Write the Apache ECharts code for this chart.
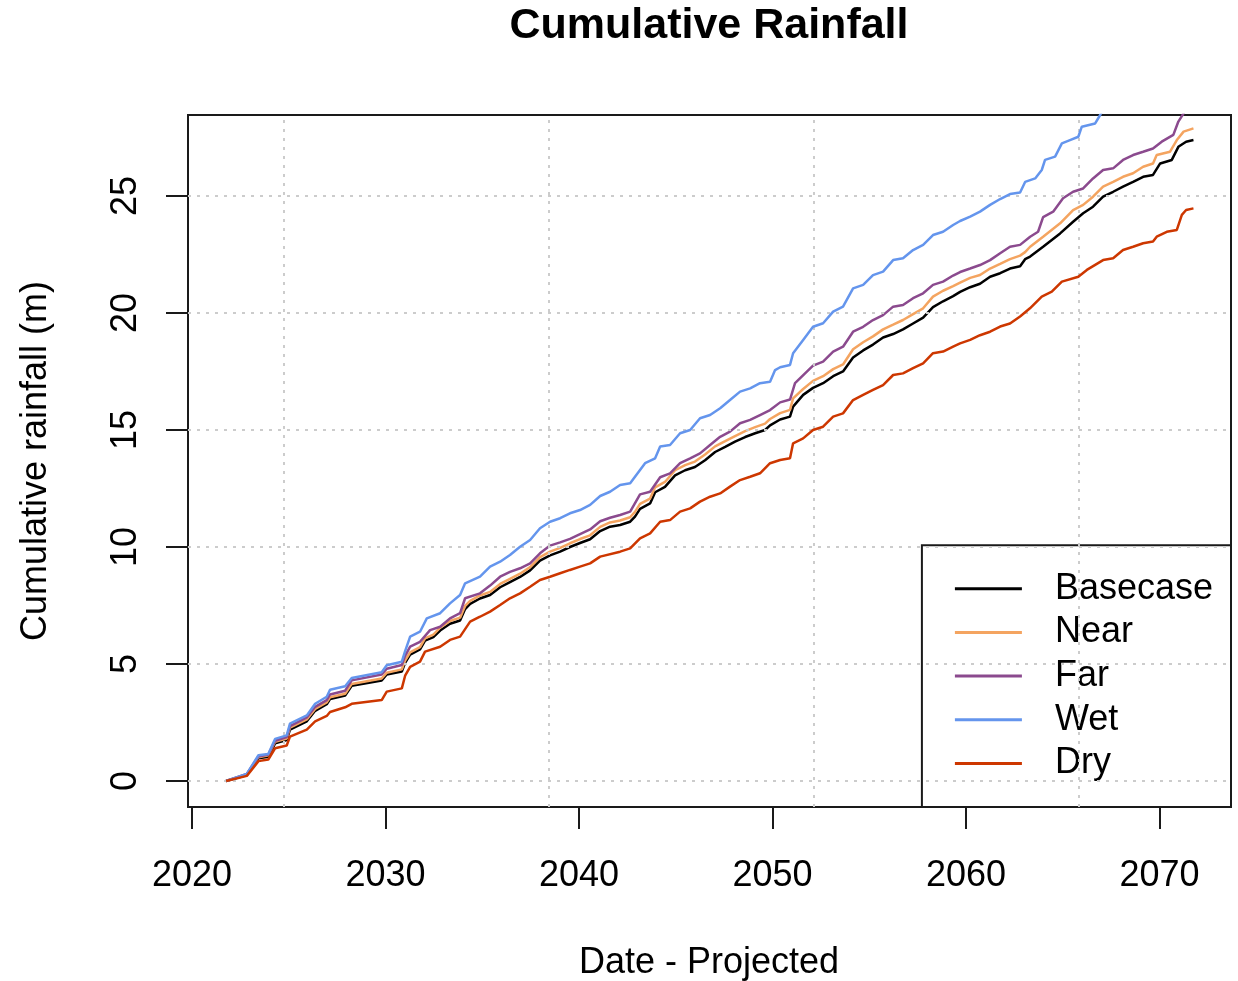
<!DOCTYPE html>
<html>
<head>
<meta charset="utf-8">
<title>Cumulative Rainfall</title>
<script src="https://cdn.jsdelivr.net/npm/echarts@6/dist/echarts.min.js"></script>
<style>
  html, body { margin: 0; padding: 0; background: #ffffff; }
  #chart { width: 1238px; height: 981px; }
</style>
</head>
<body>
<div id="chart"></div>
<script>
// Cumulative rainfall (m) by projected date, as [decimal year, value]
const basecase = [
  [2021.76, 0], [2022.83, 0.26], [2023.43, 0.97], [2023.94, 1.04], [2024.29, 1.61], [2024.89, 1.75],
  [2025.06, 2.2], [2025.93, 2.55], [2026.36, 3.0], [2026.96, 3.28], [2027.13, 3.5], [2027.91, 3.65],
  [2028.25, 4.07], [2029.80, 4.3], [2030.06, 4.55], [2030.84, 4.68], [2031.01, 5.05], [2031.27, 5.4],
  [2031.78, 5.62], [2032.04, 6.0], [2032.47, 6.15], [2032.82, 6.43], [2033.33, 6.72], [2033.85, 6.86],
  [2034.11, 7.35], [2034.37, 7.57], [2034.88, 7.8], [2035.40, 7.95], [2035.92, 8.28], [2036.43, 8.5],
  [2036.95, 8.72], [2037.47, 9.0], [2037.98, 9.42], [2038.50, 9.64], [2039.02, 9.8], [2039.53, 10.0],
  [2040.05, 10.17], [2040.57, 10.33], [2041.09, 10.68], [2041.60, 10.87], [2042.12, 10.94], [2042.64, 11.08],
  [2042.89, 11.3], [2043.15, 11.63], [2043.67, 11.86], [2043.93, 12.34], [2044.44, 12.57], [2044.96, 13.06],
  [2045.48, 13.28], [2045.99, 13.42], [2046.51, 13.71], [2047.03, 14.06], [2047.55, 14.28], [2048.06, 14.5],
  [2048.58, 14.7], [2049.10, 14.86], [2049.61, 15.0], [2049.87, 15.2], [2050.39, 15.45], [2050.90, 15.57],
  [2051.06, 16.0], [2051.58, 16.5], [2052.09, 16.8], [2052.61, 17.0], [2053.13, 17.3], [2053.64, 17.5],
  [2054.16, 18.1], [2054.68, 18.4], [2055.19, 18.65], [2055.71, 18.95], [2056.23, 19.1], [2056.74, 19.3],
  [2057.26, 19.55], [2057.78, 19.8], [2058.29, 20.25], [2058.81, 20.5], [2059.33, 20.72], [2059.69, 20.9],
  [2060.21, 21.1], [2060.72, 21.25], [2061.24, 21.55], [2061.76, 21.7], [2062.27, 21.9], [2062.79, 22.0],
  [2063.05, 22.3], [2063.31, 22.41], [2063.98, 22.83], [2064.86, 23.4], [2065.53, 23.9], [2066.05, 24.26],
  [2066.56, 24.54], [2067.08, 24.97], [2067.60, 25.18], [2068.11, 25.4], [2068.63, 25.6], [2069.15, 25.82],
  [2069.66, 25.9], [2070.03, 26.39], [2070.63, 26.54], [2070.97, 27.1], [2071.37, 27.32], [2071.75, 27.39]
];

const near = [
  [2021.76, 0], [2022.83, 0.28], [2023.43, 1.02], [2023.94, 1.1], [2024.29, 1.68], [2024.89, 1.82],
  [2025.06, 2.28], [2025.93, 2.63], [2026.36, 3.08], [2026.96, 3.36], [2027.13, 3.58], [2027.91, 3.73],
  [2028.25, 4.15], [2029.80, 4.38], [2030.06, 4.63], [2030.84, 4.77], [2031.01, 5.15], [2031.27, 5.5],
  [2031.78, 5.72], [2032.04, 6.1], [2032.47, 6.26], [2032.82, 6.55], [2033.33, 6.84], [2033.85, 6.98],
  [2034.11, 7.48], [2034.37, 7.7], [2034.88, 7.93], [2035.40, 8.08], [2035.92, 8.42], [2036.43, 8.64],
  [2036.95, 8.86], [2037.47, 9.14], [2037.98, 9.57], [2038.50, 9.8], [2039.02, 9.96], [2039.53, 10.16],
  [2040.05, 10.34], [2040.57, 10.5], [2041.09, 10.86], [2041.60, 11.05], [2042.12, 11.13], [2042.64, 11.27],
  [2042.89, 11.5], [2043.15, 11.84], [2043.67, 12.07], [2043.93, 12.55], [2044.44, 12.78], [2044.96, 13.28],
  [2045.48, 13.5], [2045.99, 13.65], [2046.51, 13.95], [2047.03, 14.3], [2047.55, 14.52], [2048.06, 14.74],
  [2048.58, 14.95], [2049.10, 15.12], [2049.61, 15.27], [2049.87, 15.47], [2050.39, 15.72], [2050.90, 15.86],
  [2051.06, 16.35], [2051.58, 16.75], [2052.09, 17.1], [2052.61, 17.3], [2053.13, 17.6], [2053.64, 17.8],
  [2054.16, 18.45], [2054.68, 18.75], [2055.19, 19.0], [2055.71, 19.3], [2056.23, 19.5], [2056.74, 19.7],
  [2057.26, 19.95], [2057.78, 20.2], [2058.29, 20.7], [2058.81, 20.95], [2059.33, 21.15], [2059.69, 21.3],
  [2060.21, 21.5], [2060.72, 21.62], [2061.24, 21.9], [2061.76, 22.1], [2062.27, 22.3], [2062.79, 22.45],
  [2063.05, 22.6], [2063.31, 22.83], [2063.98, 23.26], [2064.86, 23.83], [2065.53, 24.4], [2066.05, 24.62],
  [2066.56, 24.97], [2067.08, 25.4], [2067.60, 25.6], [2068.11, 25.82], [2068.63, 25.97], [2069.15, 26.25],
  [2069.66, 26.39], [2069.85, 26.75], [2070.54, 26.89], [2070.89, 27.39], [2071.24, 27.75], [2071.75, 27.89]
];

const far = [
  [2021.76, 0], [2022.83, 0.3], [2023.43, 1.05], [2023.94, 1.13], [2024.29, 1.72], [2024.89, 1.88],
  [2025.06, 2.35], [2025.93, 2.72], [2026.36, 3.17], [2026.96, 3.46], [2027.13, 3.7], [2027.91, 3.86],
  [2028.25, 4.3], [2029.80, 4.55], [2030.06, 4.8], [2030.84, 4.96], [2031.01, 5.35], [2031.27, 5.74],
  [2031.78, 5.95], [2032.30, 6.45], [2032.82, 6.59], [2033.33, 6.95], [2033.85, 7.17], [2034.11, 7.81],
  [2034.88, 8.02], [2035.40, 8.35], [2035.92, 8.73], [2036.43, 8.94], [2036.95, 9.09], [2037.47, 9.3],
  [2037.98, 9.73], [2038.50, 10.06], [2039.02, 10.2], [2039.53, 10.35], [2040.05, 10.55], [2040.57, 10.75],
  [2041.09, 11.1], [2041.60, 11.25], [2042.12, 11.37], [2042.64, 11.51], [2043.15, 12.25], [2043.67, 12.36],
  [2044.19, 12.98], [2044.70, 13.15], [2045.22, 13.58], [2045.74, 13.79], [2046.25, 14.0], [2046.77, 14.36],
  [2047.29, 14.71], [2047.80, 14.93], [2048.32, 15.29], [2048.84, 15.43], [2049.35, 15.64], [2049.87, 15.85],
  [2050.39, 16.18], [2050.90, 16.3], [2051.16, 17.0], [2052.09, 17.75], [2052.61, 17.92], [2053.13, 18.35],
  [2053.64, 18.56], [2054.16, 19.2], [2054.68, 19.41], [2055.19, 19.7], [2055.71, 19.91], [2056.23, 20.27],
  [2056.74, 20.34], [2057.26, 20.63], [2057.78, 20.84], [2058.29, 21.2], [2058.81, 21.34], [2059.33, 21.6],
  [2059.69, 21.75], [2060.21, 21.9], [2060.72, 22.05], [2061.24, 22.26], [2061.76, 22.55], [2062.27, 22.83],
  [2062.79, 22.91], [2063.31, 23.26], [2063.72, 23.47], [2063.98, 24.1], [2064.50, 24.33], [2065.01, 24.9],
  [2065.53, 25.18], [2066.05, 25.32], [2066.56, 25.75], [2067.08, 26.11], [2067.60, 26.18], [2068.11, 26.54],
  [2068.63, 26.75], [2069.15, 26.89], [2069.66, 27.03], [2070.11, 27.32], [2070.71, 27.61], [2070.97, 28.18],
  [2071.24, 28.53], [2071.50, 28.9]
];

const wet = [
  [2021.76, 0], [2022.83, 0.3], [2023.43, 1.1], [2023.94, 1.15], [2024.29, 1.8], [2024.89, 1.95],
  [2025.06, 2.45], [2025.93, 2.8], [2026.36, 3.3], [2026.96, 3.6], [2027.13, 3.9], [2027.91, 4.05],
  [2028.25, 4.4], [2029.80, 4.65], [2030.06, 4.95], [2030.84, 5.1], [2031.01, 5.55], [2031.27, 6.17],
  [2031.78, 6.38], [2032.13, 6.95], [2032.82, 7.17], [2033.33, 7.59], [2033.85, 7.95], [2034.11, 8.45],
  [2034.88, 8.73], [2035.40, 9.16], [2035.92, 9.37], [2036.43, 9.66], [2036.95, 10.01], [2037.47, 10.3],
  [2037.98, 10.8], [2038.50, 11.08], [2039.02, 11.23], [2039.53, 11.44], [2040.05, 11.58], [2040.57, 11.8],
  [2041.09, 12.18], [2041.60, 12.36], [2042.12, 12.65], [2042.64, 12.72], [2042.89, 13.0], [2043.41, 13.58],
  [2043.93, 13.79], [2044.19, 14.29], [2044.70, 14.36], [2045.22, 14.86], [2045.74, 15.0], [2046.25, 15.5],
  [2046.77, 15.64], [2047.29, 15.93], [2047.80, 16.28], [2048.32, 16.64], [2048.84, 16.78], [2049.35, 17.0],
  [2049.87, 17.06], [2050.13, 17.56], [2050.39, 17.68], [2050.90, 17.78], [2051.06, 18.28], [2051.58, 18.85],
  [2052.09, 19.41], [2052.61, 19.56], [2053.13, 20.06], [2053.64, 20.27], [2054.16, 21.05], [2054.68, 21.2],
  [2055.19, 21.62], [2055.71, 21.77], [2056.23, 22.26], [2056.74, 22.34], [2057.26, 22.69], [2057.78, 22.91],
  [2058.29, 23.33], [2058.81, 23.47], [2059.33, 23.76], [2059.69, 23.93], [2060.21, 24.12], [2060.72, 24.33],
  [2061.24, 24.62], [2061.76, 24.87], [2062.27, 25.08], [2062.79, 25.15], [2063.05, 25.6], [2063.57, 25.75],
  [2063.91, 26.11], [2064.08, 26.54], [2064.60, 26.68], [2064.95, 27.25], [2065.37, 27.39], [2065.80, 27.53],
  [2065.98, 27.96], [2066.67, 28.1], [2066.93, 28.46], [2067.20, 28.9]
];

const dry = [
  [2021.76, 0], [2022.83, 0.22], [2023.43, 0.85], [2023.94, 0.92], [2024.29, 1.4], [2024.89, 1.52],
  [2025.06, 1.9], [2025.93, 2.2], [2026.36, 2.55], [2026.96, 2.78], [2027.13, 2.95], [2027.91, 3.15],
  [2028.25, 3.3], [2029.80, 3.46], [2030.06, 3.82], [2030.84, 3.96], [2031.01, 4.5], [2031.27, 4.88],
  [2031.78, 5.1], [2032.04, 5.53], [2032.82, 5.74], [2033.33, 6.03], [2033.85, 6.17], [2034.37, 6.81],
  [2034.88, 7.02], [2035.40, 7.24], [2035.92, 7.52], [2036.43, 7.81], [2036.95, 8.02], [2037.47, 8.3],
  [2037.98, 8.59], [2038.50, 8.73], [2039.02, 8.88], [2039.53, 9.02], [2040.05, 9.16], [2040.57, 9.3],
  [2041.09, 9.59], [2042.12, 9.8], [2042.64, 9.94], [2043.15, 10.37], [2043.67, 10.58], [2044.19, 11.08],
  [2044.70, 11.15], [2045.22, 11.51], [2045.74, 11.65], [2046.25, 11.94], [2046.77, 12.15], [2047.29, 12.29],
  [2047.80, 12.58], [2048.32, 12.86], [2048.84, 13.0], [2049.35, 13.15], [2049.87, 13.58], [2050.39, 13.72],
  [2050.90, 13.79], [2051.06, 14.43], [2051.58, 14.64], [2052.09, 15.0], [2052.61, 15.14], [2053.13, 15.57],
  [2053.64, 15.71], [2054.16, 16.28], [2054.68, 16.5], [2055.19, 16.71], [2055.71, 16.92], [2056.23, 17.35],
  [2056.74, 17.42], [2057.26, 17.64], [2057.78, 17.85], [2058.29, 18.28], [2058.81, 18.35], [2059.33, 18.56],
  [2059.69, 18.7], [2060.21, 18.85], [2060.72, 19.05], [2061.24, 19.2], [2061.76, 19.42], [2062.27, 19.55],
  [2062.79, 19.85], [2063.30, 20.2], [2063.91, 20.7], [2064.43, 20.91], [2064.95, 21.34], [2065.80, 21.55],
  [2066.24, 21.84], [2067.08, 22.26], [2067.60, 22.34], [2068.11, 22.69], [2068.63, 22.83], [2069.15, 22.98],
  [2069.66, 23.05], [2069.85, 23.26], [2070.37, 23.47], [2070.89, 23.55], [2071.15, 24.19], [2071.37, 24.4],
  [2071.75, 24.47]
];

const seriesNames = ['Basecase', 'Near', 'Far', 'Wet', 'Dry'];
const seriesColors = ['#000000', '#F4A460', '#8B4A8E', '#6495ED', '#CD3700'];
const xTicks = [2020, 2030, 2040, 2050, 2060, 2070];
const yTicks = [0, 5, 10, 15, 20, 25];
const gridYears = [2024.76, 2038.45, 2052.14, 2065.83];

const FONT = '"Liberation Sans", Arial, Helvetica, sans-serif';
const seriesData = [basecase, near, far, wet, dry];

const chart = echarts.init(document.getElementById('chart'), null, { renderer: 'canvas' });

const gridLineStyle = { color: '#cccccc', width: 2, type: [3, 6] };

const option = {
  animation: false,
  backgroundColor: '#ffffff',
  grid: {
    left: 188, top: 115, width: 1043, height: 692,
    show: true, borderColor: '#1a1a1a', borderWidth: 2, backgroundColor: 'transparent'
  },
  xAxis: {
    type: 'value', min: 2019.79, max: 2073.69,
    splitLine: { show: false },
    axisLine: { show: false, onZero: false },
    axisTick: { show: true, length: 22, inside: false, customValues: xTicks,
                lineStyle: { color: '#1a1a1a', width: 2 } },
    axisLabel: { customValues: xTicks, fontSize: 36, fontFamily: FONT, color: '#000', margin: 51,
                 formatter: v => String(Math.round(v)) }
  },
  yAxis: {
    type: 'value', min: -1.11, max: 28.46,
    splitLine: { show: false },
    axisLine: { show: false, onZero: false },
    axisTick: { show: true, length: 22, inside: false, customValues: yTicks,
                lineStyle: { color: '#1a1a1a', width: 2 } },
    axisLabel: { customValues: yTicks, fontSize: 36, fontFamily: FONT, color: '#000', margin: 44,
                 rotate: 90, formatter: v => String(Math.round(v)) }
  },
  legend: {
    data: seriesNames,
    orient: 'vertical',
    right: 7, bottom: 174,
    backgroundColor: '#ffffff',
    borderColor: '#1a1a1a', borderWidth: 2, borderRadius: 0,
    padding: [25.5, 18, 25.5, 33],
    itemGap: 7.7,
    icon: 'rect',
    itemWidth: 67, itemHeight: 3,
    selectedMode: false,
    textStyle: { fontSize: 36, fontFamily: FONT, color: '#000', lineHeight: 36, padding: [0, 0, 0, 28] }
  },
  graphic: [
    { type: 'text', x: 709, y: 26, style: { text: 'Cumulative Rainfall', font: 'bold 43px ' + FONT,
      fill: '#000', align: 'center', verticalAlign: 'middle' } },
    { type: 'text', x: 709, y: 963, style: { text: 'Date - Projected', font: '36px ' + FONT,
      fill: '#000', align: 'center', verticalAlign: 'middle' } },
    { type: 'text', x: 36, y: 461, rotation: Math.PI / 2, style: { text: 'Cumulative rainfall (m)',
      font: '36px ' + FONT, fill: '#000', align: 'center', verticalAlign: 'middle' } }
  ],
  series: [
    {
      // dotted reference grid drawn underneath the data lines
      name: 'grid', type: 'line', data: [], z: 1, silent: true,
      markLine: {
        silent: true, symbol: 'none', animation: false,
        label: { show: false },
        lineStyle: gridLineStyle,
        data: gridYears.map(x => ({ xAxis: x })).concat(yTicks.map(y => ({ yAxis: y })))
      }
    }
  ].concat(seriesNames.map((name, i) => ({
    name: name,
    type: 'line',
    data: seriesData[i],
    showSymbol: false,
    symbol: 'none',
    clip: true,
    z: 2 + i,
    color: seriesColors[i],
    lineStyle: { color: seriesColors[i], width: 2.5 }
  })))
};

chart.setOption(option);
</script>
</body>
</html>
